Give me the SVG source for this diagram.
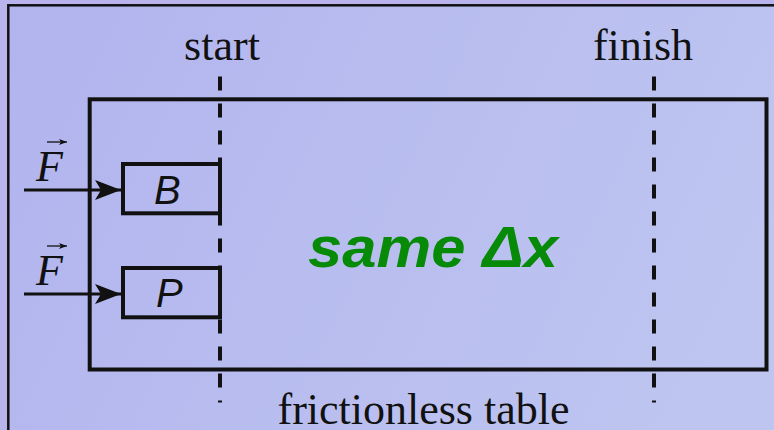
<svg xmlns="http://www.w3.org/2000/svg" width="774" height="430" viewBox="0 0 774 430">
<defs>
<linearGradient id="bg" x1="0" y1="0" x2="1" y2="0.3">
<stop offset="0" stop-color="#b2b4ee"/>
<stop offset="1" stop-color="#bec5f0"/>
</linearGradient>
<marker id="ah" viewBox="0 0 26 20" refX="26" refY="10" markerWidth="26" markerHeight="20" markerUnits="userSpaceOnUse" orient="auto">
<path d="M0,0 L26,10 L0,20 L6,10 Z" fill="#111"/>
</marker>
<marker id="va" viewBox="0 0 8 6" refX="8" refY="3" markerWidth="8" markerHeight="6" markerUnits="userSpaceOnUse" orient="auto">
<path d="M0,0 L8,3 L0,6 L2,3 Z" fill="#111"/>
</marker>
</defs>
<style>
.serif{font-family:"Liberation Serif","Times New Roman",serif;fill:#111;}
.lbl{font-size:44px;}
.box{fill:none;stroke:#111;stroke-width:4;}
.dash{stroke:#111;stroke-width:4;stroke-dasharray:14 13;fill:none;}
.force{stroke:#111;stroke-width:3;fill:none;marker-end:url(#ah);}
.vec{stroke:#111;stroke-width:1.3;fill:none;marker-end:url(#va);}
.mass{font-family:"Liberation Sans",Arial,sans-serif;font-style:italic;font-size:40px;fill:#111;}
</style>
<rect x="0" y="0" width="774" height="430" fill="#b9b5ec"/>
<rect x="8.3" y="5.3" width="800" height="500" fill="url(#bg)" stroke="#111" stroke-width="2.5"/>

<g id="table">
<rect class="box" x="89.7" y="99.3" width="676.8" height="270.2"/>
<text class="serif lbl" x="423.5" y="424" text-anchor="middle">frictionless table</text>
</g>

<g id="start">
<line class="dash" x1="220" y1="76.5" x2="220" y2="402.5"/>
<text class="serif lbl" x="222" y="60" text-anchor="middle">start</text>
</g>

<g id="finish">
<line class="dash" x1="654" y1="76.5" x2="654" y2="402.5"/>
<text class="serif lbl" x="643" y="60" text-anchor="middle">finish</text>
</g>

<g id="blockB">
<rect class="box" x="123" y="164" width="97" height="49.3"/>
<text class="mass" x="154" y="204">B</text>
</g>

<g id="blockP">
<rect class="box" x="123" y="268" width="97" height="49.3"/>
<text class="mass" x="156" y="307">P</text>
</g>

<g id="label">
<text x="308" y="267" textLength="250" lengthAdjust="spacingAndGlyphs" font-family="Liberation Sans, Arial, sans-serif" font-weight="bold" font-style="italic" font-size="58" fill="#078a07">same Δx</text>
</g>

<g id="connectors">
<line class="force" x1="24" y1="190" x2="121" y2="190"/>
<line class="force" x1="24" y1="294" x2="121" y2="294"/>
<line class="vec" x1="47" y1="142" x2="67" y2="142"/>
<line class="vec" x1="47" y1="246" x2="67" y2="246"/>
</g>

<g id="forces">
<text class="serif" x="36" y="181" font-style="italic" font-size="44">F</text>
<text class="serif" x="36" y="285" font-style="italic" font-size="44">F</text>
</g>
</svg>
